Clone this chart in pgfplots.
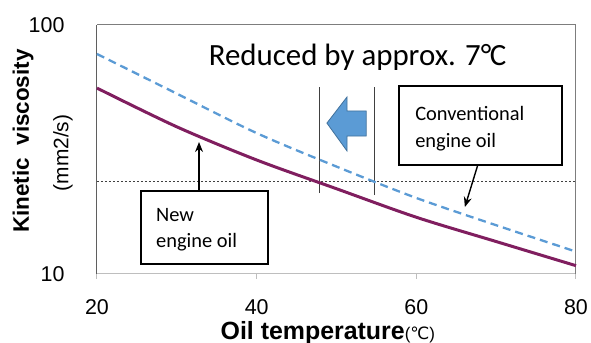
\documentclass[border=0pt]{standalone}
\usepackage{pgfplots}
\pgfplotsset{compat=1.18}
\usepackage{fontspec}
\setmainfont{Liberation Sans}
\newfontfamily\calfont{Carlito}
\newfontfamily\dejavu{DejaVu Sans}
\usetikzlibrary{arrows.meta}
\definecolor{newoil}{RGB}{128,30,95}
\definecolor{convoil}{RGB}{91,155,213}
\definecolor{arrowfill}{RGB}{91,155,213}
\definecolor{arrowedge}{RGB}{65,113,156}
\begin{document}
\begin{tikzpicture}
\path[use as bounding box] (-97bp,-69bp) rectangle (494bp,274bp);
\begin{axis}[
  at={(0,0)}, anchor=south west,
  scale only axis, width=479bp, height=249bp,
  ymode=log, xmin=20, xmax=80, ymin=10, ymax=100,
  xtick={20,40,60,80}, ytick={10,100}, yticklabels={10,100},
  minor ytick={}, 
  axis x line=bottom, axis y line=left,
  x axis line style={draw={rgb,255:red,190;green,190;blue,190}, line width=1bp, -},
  y axis line style={draw={rgb,255:red,95;green,95;blue,95}, line width=1bp, -},
  xtick style={draw={rgb,255:red,190;green,190;blue,190}, line width=1bp},
  ytick style={draw=none},
  tick align=outside, major tick length=5bp,
  /pgf/number format/assume math mode=true,
  xticklabel style={font=\fontsize{21.5}{21.5}\selectfont, yshift=-17bp},
  yticklabel style={font=\fontsize{21.5}{21.5}\selectfont, xshift=-24bp},
  clip=false,
]
\draw[draw={rgb,255:red,125;green,125;blue,125}, line width=1bp] (rel axis cs:0,1) -- (rel axis cs:1,1) -- (rel axis cs:1,0);
\draw[dash pattern=on 2bp off 2bp, black!75, line width=0.9bp] (rel axis cs:0,0.3707) -- (rel axis cs:1,0.3707);
\draw[black!75, line width=1bp] (rel axis cs:0.4635,0.325) -- (rel axis cs:0.4635,0.751);
\draw[black!75, line width=1bp] (rel axis cs:0.580,0.317) -- (rel axis cs:0.580,0.751);

\addplot[convoil, line width=2.3bp, dash pattern=on 8bp off 5bp, smooth] coordinates {
 (20,76.5) (30,53.0) (40,36.8) (50,27.0) (60,20.2) (70,15.7) (80,12.3)};
\addplot[newoil, line width=3bp, smooth] coordinates {
 (20,55.8) (30,39.0) (40,28.7) (50,22.0) (60,16.9) (70,13.5) (80,10.8)};

% block arrow
\draw[fill=arrowfill, draw=arrowedge, line width=0.8bp] (rel axis cs:0.480,0.606) -- (rel axis cs:0.522,0.711) -- (rel axis cs:0.522,0.655) -- (rel axis cs:0.562,0.655) -- (rel axis cs:0.562,0.554) -- (rel axis cs:0.522,0.554) -- (rel axis cs:0.522,0.494) -- cycle;

\node[font=\calfont\fontsize{31}{31}\selectfont] at (rel axis cs:0.544,0.871) {Reduced by approx. 7°\kern-1.5bp C};

% conventional box
\draw[black, line width=1.5bp, fill=white] (rel axis cs:0.630,0.438) rectangle (rel axis cs:0.971,0.755);
\node[anchor=base west, inner sep=0pt, font=\calfont\fontsize{20.5}{20.5}\selectfont] at (rel axis cs:0.664,0.618) {Conventional};
\node[anchor=base west, inner sep=0pt, font=\calfont\fontsize{20.5}{20.5}\selectfont] at (rel axis cs:0.664,0.510) {engine oil};
\draw[-{Stealth[length=10bp,width=8bp]}, line width=1.4bp] (rel axis cs:0.795,0.438) -- (rel axis cs:0.768,0.269);

% new box
\draw[black, line width=1.5bp, fill=white] (rel axis cs:0.0919,0.040) rectangle (rel axis cs:0.357,0.333);
\node[anchor=base west, inner sep=0pt, font=\calfont\fontsize{20.5}{20.5}\selectfont] at (rel axis cs:0.123,0.209) {New};
\node[anchor=base west, inner sep=0pt, font=\calfont\fontsize{20.5}{20.5}\selectfont] at (rel axis cs:0.123,0.108) {engine oil};
\draw[-{Stealth[length=10bp,width=8bp]}, line width=1.4bp] (rel axis cs:0.213,0.333) -- (rel axis cs:0.213,0.530);

% axis labels
\node[rotate=90, font=\bfseries\fontsize{22.5}{22.5}\selectfont] at (rel axis cs:-0.1545,0.534) {Kinetic\ \ viscosity};
\node[rotate=90, font=\fontsize{21}{21}\selectfont] at (rel axis cs:-0.071,0.486) {(mm2/s)};
\node[anchor=base, inner sep=0pt] at (rel axis cs:0.482,-0.262) {\bfseries\fontsize{25}{25}\selectfont Oil temperature{\mdseries\fontsize{17}{17}\selectfont(\dejavu ℃\rmfamily)}};
\end{axis}
\end{tikzpicture}
\end{document}
